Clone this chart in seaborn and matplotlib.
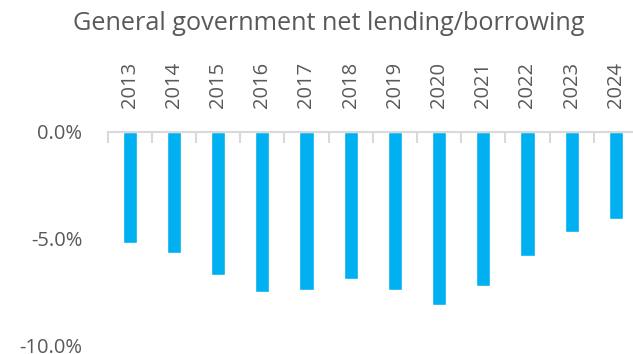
import numpy as np
import pandas as pd
import matplotlib
matplotlib.use("Agg")
import matplotlib.pyplot as plt
import seaborn as sns
from matplotlib.ticker import FuncFormatter, FixedLocator

years = ["2013", "2014", "2015", "2016", "2017", "2018",
         "2019", "2020", "2021", "2022", "2023", "2024"]
net_lending = [-5.2, -5.7, -6.7, -7.5, -7.4, -6.9,
               -7.4, -8.1, -7.2, -5.8, -4.7, -4.1]
y_ticks = [0.0, -5.0, -10.0]
title = "General government net lending/borrowing"

sns.set_theme(style="white")
plt.rcParams["font.family"] = ["Open Sans", "DejaVu Sans"]

text_color = "#595959"
axis_color = "#d9d9d9"
bar_color = "#00b0f0"

df = pd.DataFrame({"year": years, "value": net_lending})

fig = plt.figure(figsize=(6.33, 3.54), dpi=100)
ax = fig.add_axes([107.5 / 633, 1 - 345.5 / 354, (638 - 107.5) / 633, (345.5 - 131.5) / 354])

sns.barplot(data=df, x="year", y="value", color=bar_color, saturation=1,
            width=0.32, ax=ax)

ax.set_ylim(-10, 0)
ax.set_xlim(-0.5, len(years) - 0.5)
ax.set_xlabel("")
ax.set_ylabel("")

for side in ["left", "right", "bottom"]:
    ax.spines[side].set_visible(False)
ax.spines["top"].set_color(axis_color)
ax.spines["top"].set_linewidth(1.5)

# Category labels above the zero line, rotated
ax.xaxis.tick_top()
ax.set_xticks(range(len(years)))
ax.set_xticklabels(years, rotation=90, fontsize=14.5, color=text_color)
ax.tick_params(axis="x", which="major", length=0, pad=17)
ax.xaxis.set_minor_locator(FixedLocator(np.arange(-0.5, len(years), 1.0)))
ax.tick_params(axis="x", which="minor", top=True, bottom=False, direction="in",
               length=8, width=1.5, color=axis_color)

ax.set_yticks(y_ticks)
ax.yaxis.set_major_formatter(FuncFormatter(lambda v, _: f"{v:.1f}%"))
ax.tick_params(axis="y", length=0, pad=18, labelsize=14.5, labelcolor=text_color)
ax.grid(False)

fig.text(329 / 633, 1 - 24 / 354, title, ha="center", va="center",
         fontsize=18.2, color=text_color)

fig.savefig("out.png", dpi=100)
